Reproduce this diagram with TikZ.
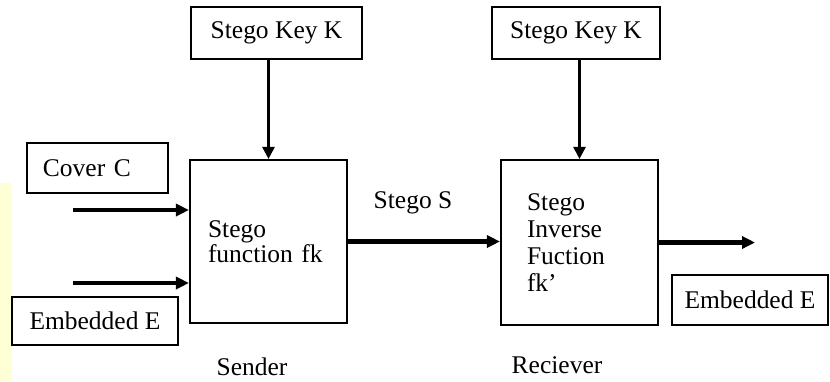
\documentclass[tikz,border=0pt]{standalone}
\usepackage{fontspec}
\setmainfont{Liberation Serif}
\usetikzlibrary{arrows.meta,positioning}
\definecolor{ink}{RGB}{0,0,0}
\definecolor{panel}{RGB}{255,255,214}
\tikzset{
  blk/.style={draw=ink,fill=white,line width=1.2pt,inner sep=0pt,align=center,
    font=\fontsize{14.5}{14.5}\selectfont},
  fnbox/.style={blk,align=left,inner xsep=#1,anchor=center},
  flow/.style={-{Triangle[length=2.6mm,width=2.4mm]},line width=2.3pt,draw=ink},
  keyflow/.style={-{Triangle[length=2.4mm,width=2.4mm]},line width=1.5pt,draw=ink},
  lbl/.style={font=\fontsize{14.5}{14.5}\selectfont,inner sep=0pt},
}
\begin{document}
\begin{tikzpicture}[x=0.2mm,y=-0.2mm]
        \useasboundingbox (0,0) rectangle (830,381);
        \fill[white] (0,0) rectangle (830,381);
        \fill[panel] (0,183) rectangle (12,381);
        % keys
        \node[blk,minimum width=34.2mm,minimum height=10.4mm] (keyA) at (276.5,33) {Stego Key K};
        \node[blk,minimum width=33.6mm,minimum height=10.4mm] (keyB) at (576,33) {Stego Key K};
        % function boxes
        \node[fnbox=3.6mm,text width=24.2mm,minimum height=32.6mm] (send) at (268.5,241.5) {Stego\\function fk};
        \node[fnbox=5.2mm,text width=21mm,minimum height=33mm,
          font=\fontsize{14.5}{15.5}\selectfont] (recv) at (579.5,242.5) {Stego\\Inverse\\Fuction\\fk'};
        % inputs and output
        \node[fnbox=3.2mm,text width=21.8mm,minimum height=10mm] (cover) at (97.5,168) {Cover C};
        \node[blk,minimum width=33.2mm,minimum height=9.6mm] (embA) at (95,321) {Embedded E};
        \node[blk,minimum width=31.2mm,minimum height=10mm] (embB) at (750,300) {Embedded E};
        % labels
        \node[lbl] (stegoS) at (413,203) {Stego S};
        \node[lbl] (sender) at (252,367) {Sender};
        \node[lbl] (reciever) at (557,365) {Reciever};
        \coordinate (cin) at (73,210);
        \coordinate (ein) at (73,283);
        \coordinate (rout) at (755,242.5);
        \draw[keyflow] (send.north |- keyA.south) -- (send.north);
        \draw[keyflow] (recv.north |- keyB.south) -- (recv.north);
        \draw[flow] (cin) -- (cin -| send.west);
        \draw[flow] (ein) -- (ein -| send.west);
        \draw[flow] (send.east) -- (send.east -| recv.west);
        \draw[flow] (recv.east |- rout) -- (rout);
      \end{tikzpicture}
\end{document}
